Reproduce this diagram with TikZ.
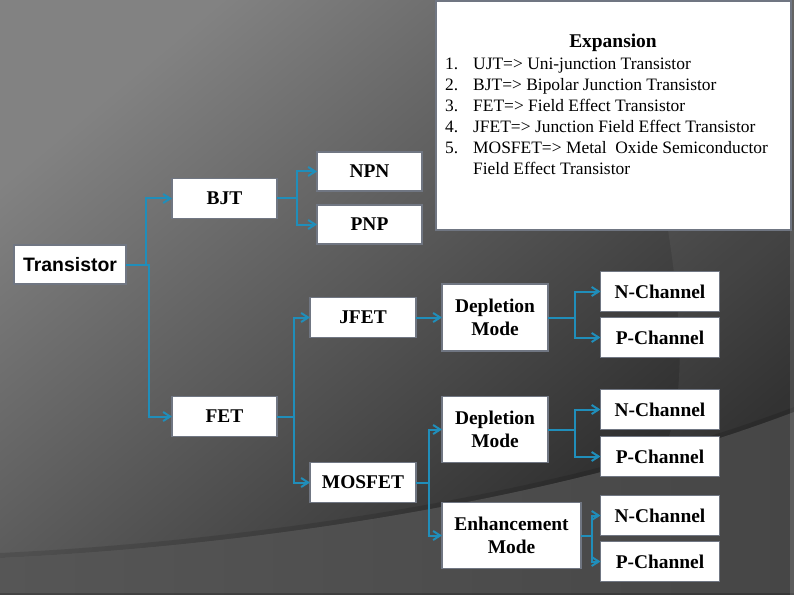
\documentclass[tikz,border=0pt]{standalone}
\usepackage{fontspec}
\setmainfont{Liberation Serif}
\newfontfamily\arialfont{Liberation Sans}
\usetikzlibrary{arrows.meta,shadings}

\definecolor{linkblue}{RGB}{32,142,186}
\definecolor{boxgray}{RGB}{112,118,130}
\definecolor{bgtop}{RGB}{130,130,130}
\definecolor{bgmid}{RGB}{64,64,64}
\definecolor{bgbot}{RGB}{38,38,38}
\definecolor{bandL}{RGB}{86,86,86}
\definecolor{bandR}{RGB}{70,70,70}

\tikzset{
  box/.style={draw=boxgray, line width=1.5bp, fill=white, inner sep=0pt, outer sep=0pt, align=center,
    font=\fontsize{19.5}{23.5}\selectfont\bfseries},
  link/.style={draw=linkblue, line width=2bp, -{Straight Barb[length=7bp,width=9bp]}},
  listline/.style={inner sep=0pt, font=\fontsize{17.5}{21}\selectfont},
}

\begin{document}
\begin{tikzpicture}[x=1bp,y=-1bp]
	\useasboundingbox (0,0) rectangle (794,595);

	% background
	\shade[top color=bgtop, middle color=bgmid, bottom color=bgbot, shading angle=40] (0,0) rectangle (794,595);
	\fill[white, opacity=0.05] (668,230) .. controls (682,320) and (690,420) .. (652,470)
		-- (794,412) -- (794,230) -- cycle;
	\fill[black, opacity=0.12] (0,553) .. controls (250,541) and (560,496) .. (794,407)
		-- (794,412) .. controls (560,501) and (250,546) .. (0,558) -- cycle;
	\shade[left color=bandL, right color=bandR] (0,558) .. controls (250,546) and (560,501) .. (794,412)
		-- (794,595) -- (0,595) -- cycle;
	\fill[black, opacity=0.2] (0,593) rectangle (794,595);
	\fill[white, opacity=0.12] (790,0) rectangle (794,595);

	% expansion box
	\node[draw=boxgray, line width=1.5bp, fill=white, minimum width=355bp, minimum height=229bp] (expbox) at (613.5,115.5) {};
	\node[inner sep=0pt, anchor=base, font=\fontsize{19.5}{23.5}\selectfont\bfseries] (exptitle) at (613,48) {Expansion};
	\foreach \num/\txt [count=\i] in {1./UJT=> Uni-junction Transistor,
			2./BJT=> Bipolar Junction Transistor,
			3./FET=> Field Effect Transistor,
			4./JFET=> Junction Field Effect Transistor,
			5./MOSFET=> Metal\ \ Oxide Semiconductor}
		\node[listline, anchor=base west] (line\i) at (445,{49+21*\i}) {\makebox[28bp][l]{\num}\txt};
	\node[listline, anchor=base west] (line6) at (473,175) {Field Effect Transistor};

	% tree
	\node[box, font=\arialfont\fontsize{19.5}{23.5}\selectfont\bfseries, minimum width=112bp, minimum height=39bp] (trans) at (70,264.5) {Transistor};
	\node[box, minimum width=105bp, minimum height=40bp] (bjt) at (224.5,198.5) {BJT};
	\node[box, minimum width=105bp, minimum height=40bp] (fet) at (224.5,416.5) {FET};
	\node[box, minimum width=105bp, minimum height=39bp] (npn) at (369.5,171.5) {NPN};
	\node[box, minimum width=105bp, minimum height=39bp] (pnp) at (369.5,224.5) {PNP};
	\node[box, minimum width=106bp, minimum height=40bp] (jfet) at (363,317.5) {JFET};
	\node[box, minimum width=106bp, minimum height=40bp] (mosfet) at (363,482.5) {MOSFET};
	\node[box, minimum width=106bp, minimum height=67bp] (dep1) at (495,317.5) {Depletion\\Mode};
	\node[box, minimum width=106bp, minimum height=66bp] (dep2) at (495,429.5) {Depletion\\Mode};
	\node[box, minimum width=139bp, minimum height=66bp] (enh) at (511.5,535.5) {Enhancement\\Mode};
	\node[box, minimum width=119bp, minimum height=40bp] (n1) at (660,291.5) {N-Channel};
	\node[box, minimum width=119bp, minimum height=40bp] (p1) at (660,337.5) {P-Channel};
	\node[box, minimum width=119bp, minimum height=40bp] (n2) at (660,409.5) {N-Channel};
	\node[box, minimum width=119bp, minimum height=40bp] (p2) at (660,456.5) {P-Channel};
	\node[box, minimum width=119bp, minimum height=40bp] (n3) at (660,515.5) {N-Channel};
	\node[box, minimum width=119bp, minimum height=40bp] (p3) at (660,561.5) {P-Channel};

	\draw[link] (trans.east) -- ++(19.5,0) |- (bjt.west);
	\draw[link] (trans.east) -- ++(22.5,0) |- (fet.west);
	\draw[link] (bjt.east) -- ++(19.5,0) |- (npn.west);
	\draw[link] (bjt.east) -- ++(19.5,0) |- (pnp.west);
	\draw[link] (fet.east) -- ++(16.5,0) |- (jfet.west);
	\draw[link] (fet.east) -- ++(16.5,0) |- (mosfet.west);
	\draw[link] (jfet) -- (dep1);
	\draw[link] (dep1.east) -- ++(26.5,0) |- (n1.west);
	\draw[link] (dep1.east) -- ++(26.5,0) |- (p1.west);
	\draw[link] (mosfet.east) -- ++(12.5,0) |- (dep2.west);
	\draw[link] (mosfet.east) -- ++(12.5,0) |- (enh.west);
	\draw[link] (dep2.east) -- ++(26.5,0) |- (n2.west);
	\draw[link] (dep2.east) -- ++(26.5,0) |- (p2.west);
	\draw[link] (enh.east) -- ++(10.5,0) |- (n3.west);
	\draw[link] (enh.east) -- ++(10.5,0) |- (p3.west);
\end{tikzpicture}
\end{document}
